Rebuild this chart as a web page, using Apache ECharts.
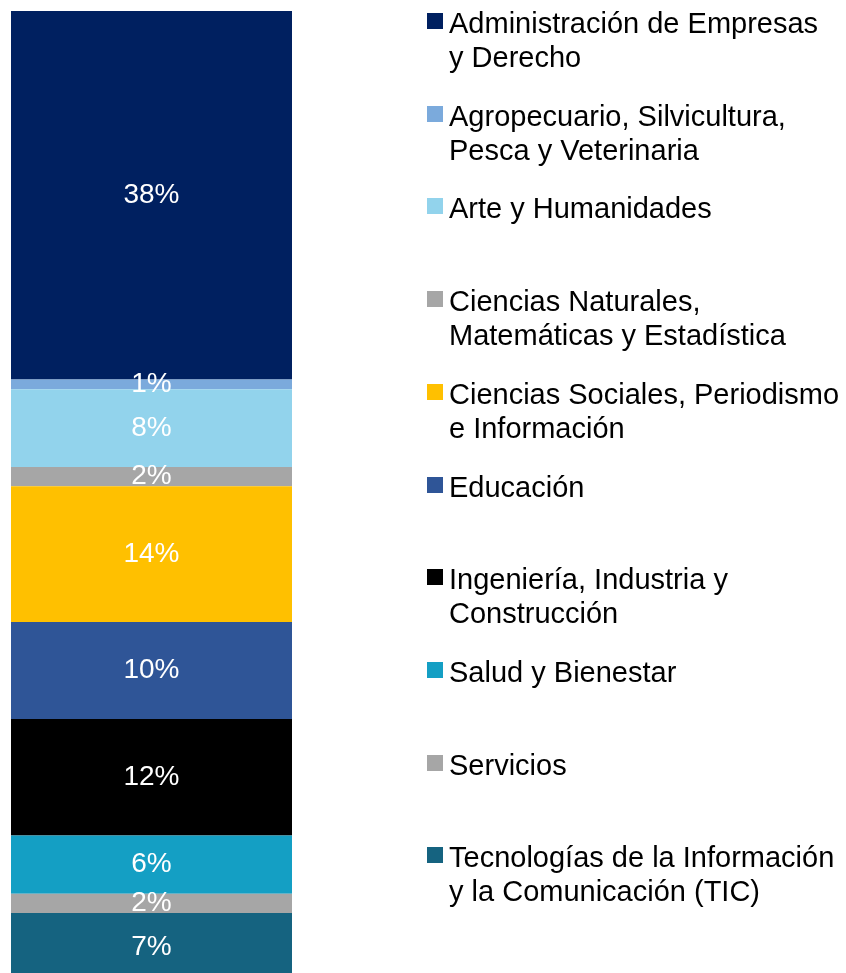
<!DOCTYPE html>
<html>
<head>
<meta charset="utf-8">
<script src="https://cdn.jsdelivr.net/npm/echarts@6/dist/echarts.min.js"></script>
<style>
  html, body { margin: 0; padding: 0; background: #ffffff; overflow: hidden; }
  #chart { width: 846px; height: 973px; }
</style>
</head>
<body>
<div id="chart"></div>
<script>
// Share of enrolment by field of study (%), top to bottom of the bar
var categories = [
  'Administración de Empresas\ny Derecho',
  'Agropecuario, Silvicultura,\nPesca y Veterinaria',
  'Arte y Humanidades',
  'Ciencias Naturales,\nMatemáticas y Estadística',
  'Ciencias Sociales, Periodismo\ne Información',
  'Educación',
  'Ingeniería, Industria y\nConstrucción',
  'Salud y Bienestar',
  'Servicios',
  'Tecnologías de la Información\ny la Comunicación (TIC)'
];
var shares = [38, 1, 8, 2, 14, 10, 12, 6, 2, 7];
var colors = ['#002060', '#7BAADC', '#92D3EC', '#A6A6A6', '#FFC000',
              '#2F5597', '#000000', '#149FC4', '#A6A6A6', '#156380'];

var FONT = '"Liberation Sans", Arial, sans-serif';

var series = categories.map(function (name, i) {
  return {
    name: name,
    type: 'bar',
    stack: 'total',
    barWidth: '100%',
    data: [shares[i]],
    itemStyle: { color: colors[i] },
    label: {
      show: true,
      position: 'inside',
      formatter: '{c}%',
      color: '#ffffff',
      fontSize: 28,
      fontFamily: FONT
    }
  };
});

// Legend entries: square swatch aligned with the first text line
var legendTop = 21, legendStep = 92.7, lineH = 34;
var legendItems = [];
categories.forEach(function (name, i) {
  var cy = legendTop + legendStep * i;
  legendItems.push({
    type: 'rect',
    shape: { x: 427, y: Math.round(cy - 8), width: 16, height: 16 },
    style: { fill: colors[i] }
  });
  legendItems.push({
    type: 'text',
    x: 449,
    y: cy + 4 - lineH / 2,
    style: {
      text: name,
      fill: '#000000',
      font: '29px ' + FONT,
      lineHeight: lineH,
      verticalAlign: 'top',
      align: 'left'
    }
  });
});

var chart = echarts.init(document.getElementById('chart'));
chart.setOption({
  animation: false,
  backgroundColor: '#ffffff',
  // the bar runs slightly past the lower edge of the canvas
  grid: {
    left: 11, top: 11, width: 281, height: 970,
    outerBoundsMode: 'none'
  },
  xAxis: {
    type: 'category',
    data: [''],
    show: false
  },
  yAxis: {
    type: 'value',
    min: 0,
    max: 100,
    inverse: true,
    show: false
  },
  series: series,
  graphic: legendItems
});
</script>
</body>
</html>
